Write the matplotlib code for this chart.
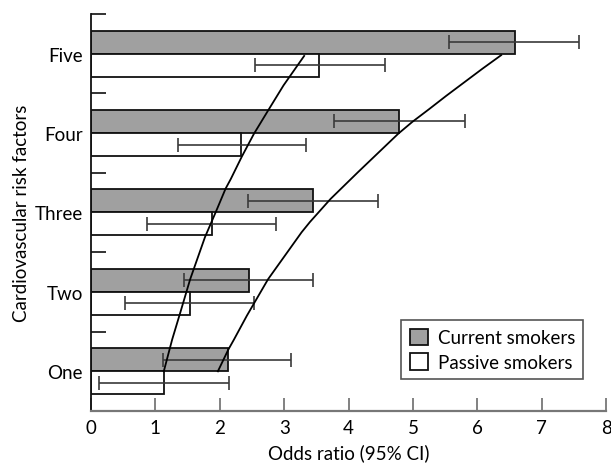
import matplotlib
matplotlib.use("Agg")
import matplotlib.pyplot as plt
import numpy as np

plt.rcParams['font.family'] = ['Lato', 'DejaVu Sans']

# data
categories = ['One', 'Two', 'Three', 'Four', 'Five']
current = [2.12, 2.45, 3.45, 4.78, 6.58]
current_lo = [1.11, 1.45, 2.44, 3.77, 5.56]
current_hi = [3.11, 3.45, 4.46, 5.81, 7.58]
passive = [1.14, 1.54, 1.88, 2.33, 3.54]
passive_lo = [0.13, 0.53, 0.87, 1.35, 2.55]
passive_hi = [2.14, 2.53, 2.88, 3.34, 4.57]

# the two trend curves, (odds ratio, category position)
curve_passive_x = [1.13, 1.26, 1.39, 1.54, 1.77, 1.94, 2.09, 2.17, 2.34, 2.53, 2.74, 2.99, 3.31]
curve_passive_y = [0.0, 0.40, 0.75, 1.16, 1.69, 2.01, 2.30, 2.42, 2.70, 2.99, 3.27, 3.60, 3.97]
curve_current_x = [1.97, 2.13, 2.22, 2.42, 2.75, 3.27, 3.40, 3.72, 4.15, 4.77, 4.99, 5.25, 5.52, 5.80, 6.08, 6.37]
curve_current_y = [0.0, 0.27, 0.40, 0.70, 1.16, 1.75, 1.88, 2.17, 2.51, 2.99, 3.14, 3.30, 3.47, 3.64, 3.81, 3.98]

fig = plt.figure(figsize=(6.11, 4.64), dpi=100)
ax = fig.add_axes([0.149, 0.112, 0.843, 0.856])

y = np.arange(len(categories))
h = 0.29
ax.barh(y + h / 2, current, height=h, color='#a0a0a0', edgecolor='#111111',
        linewidth=1.3, label='Current smokers', zorder=2)
ax.barh(y - h / 2, passive, height=h, color='white', edgecolor='#111111',
        linewidth=1.3, label='Passive smokers', zorder=2)

cur_err = [np.array(current) - np.array(current_lo), np.array(current_hi) - np.array(current)]
pas_err = [np.array(passive) - np.array(passive_lo), np.array(passive_hi) - np.array(passive)]
ax.errorbar(current, y + h / 2, xerr=cur_err, fmt='none', ecolor='#3a3a3a',
            elinewidth=1.2, capsize=4.7, capthick=1.2, zorder=3)
ax.errorbar(passive, y - h / 2, xerr=pas_err, fmt='none', ecolor='#3a3a3a',
            elinewidth=1.2, capsize=4.7, capthick=1.2, zorder=3)

ax.plot(curve_passive_x, curve_passive_y, color='black', linewidth=1.3, zorder=4)
ax.plot(curve_current_x, curve_current_y, color='black', linewidth=1.3, zorder=4)

ax.set_xlim(0, 8)
ax.set_ylim(-0.5, 4.5)
ax.set_xticks(range(9))

# category labels sit at the centre, the tick marks at the group boundaries
ax.set_yticks(y)
ax.set_yticklabels(categories)
ax.set_yticks(np.arange(-0.5, 4.6, 1.0), minor=True)
ax.tick_params(axis='y', which='major', length=0, pad=6, labelsize=13.5)
ax.tick_params(axis='y', which='minor', direction='in', length=11, width=1.3, color='#222222')
ax.tick_params(axis='x', direction='in', length=9.5, width=1.3, color='#777777',
               pad=6, labelsize=13.5)

for s in ['top', 'right']:
    ax.spines[s].set_visible(False)
ax.spines['left'].set_color('#111111')
ax.spines['left'].set_linewidth(1.3)
ax.spines['bottom'].set_color('#777777')
ax.spines['bottom'].set_linewidth(1.6)

ax.set_xlabel('Odds ratio (95% CI)', fontsize=13.5, labelpad=5)
ax.set_ylabel('Cardiovascular risk factors', fontsize=13.5, labelpad=3)

leg = ax.legend(loc='lower right', bbox_to_anchor=(0.956, 0.08), fontsize=13.5,
                fancybox=False, framealpha=1, edgecolor='#555555',
                handlelength=1.0, handleheight=1.0, handletextpad=0.5,
                borderpad=0.45, labelspacing=0.35, borderaxespad=0)
leg.get_frame().set_linewidth(1.2)

fig.savefig('out.png', dpi=100)
